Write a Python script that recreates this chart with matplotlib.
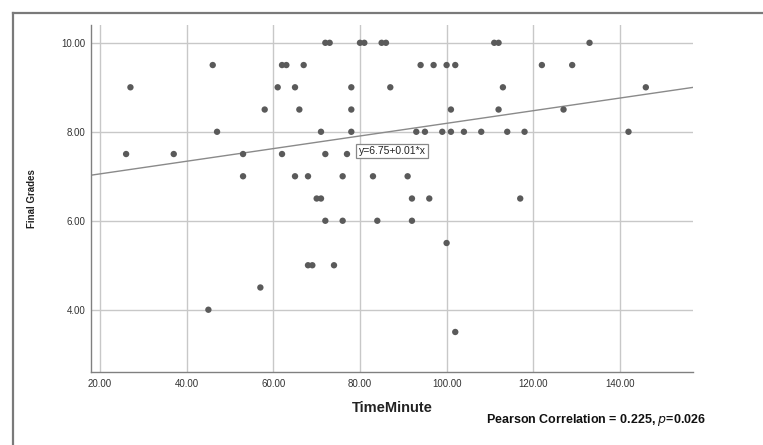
import matplotlib
matplotlib.use("Agg")
import matplotlib.pyplot as plt
from matplotlib.lines import Line2D
import numpy as np

plt.rcParams['font.family'] = ['Liberation Sans', 'DejaVu Sans']

# scatter values (TimeMinute, Final Grades)
time_minute = [26, 27, 37, 45, 46, 47, 53, 53, 57, 58, 61, 62, 62, 63, 65, 65, 66, 67,
               68, 68, 69, 70, 71, 71, 72, 72, 72, 73, 74, 76, 76, 77, 78, 78, 78,
               80, 81, 83, 84, 85, 86, 87, 91, 92, 92, 93, 94, 95, 96, 97, 99,
               100, 100, 101, 101, 102, 102, 104, 108, 111, 112, 112, 113, 114,
               117, 118, 122, 127, 129, 133, 142, 146]
final_grades = [7.5, 9.0, 7.5, 4.0, 9.5, 8.0, 7.5, 7.0, 4.5, 8.5, 9.0, 9.5, 7.5, 9.5, 9.0, 7.0, 8.5, 9.5,
                7.0, 5.0, 5.0, 6.5, 6.5, 8.0, 10.0, 7.5, 6.0, 10.0, 5.0, 7.0, 6.0, 7.5, 9.0, 8.5, 8.0,
                10.0, 10.0, 7.0, 6.0, 10.0, 10.0, 9.0, 7.0, 6.5, 6.0, 8.0, 9.5, 8.0, 6.5, 9.5, 8.0,
                9.5, 5.5, 8.0, 8.5, 9.5, 3.5, 8.0, 8.0, 10.0, 10.0, 8.5, 9.0, 8.0,
                6.5, 8.0, 9.5, 8.5, 9.5, 10.0, 8.0, 9.0]

# fit line as drawn
fit_intercept = 6.77
fit_slope = 0.0142
fit_label = 'y=6.75+0.01*x'
fit_label_pos = (87.4, 7.57)

x_ticks = [20, 40, 60, 80, 100, 120, 140]
y_ticks = [4, 6, 8, 10]

fig = plt.figure(figsize=(7.63, 4.45), dpi=100)
ax = fig.add_axes([0.1193, 0.164, 0.7890, 0.7798])

ax.set_xlim(17.9, 156.9)
ax.set_ylim(2.6, 10.4)

ax.grid(True, color='#c8c8c8', linewidth=1.0, zorder=0)
ax.set_axisbelow(True)

xs = np.array(ax.get_xlim())
ax.plot(xs, fit_intercept + fit_slope * xs, color='#8a8a8a', linewidth=1.0, zorder=2)

ax.scatter(time_minute, final_grades, s=21, color='#5a5a5a', edgecolors='none', zorder=3)

ax.text(fit_label_pos[0], fit_label_pos[1], fit_label, fontsize=7.5, color='#222222',
        ha='center', va='center', zorder=4,
        bbox=dict(boxstyle='square,pad=0.2', facecolor='white', edgecolor='#888888', linewidth=0.9))

ax.set_xticks(x_ticks)
ax.set_xticklabels(['%.2f' % v for v in x_ticks])
ax.set_yticks(y_ticks)
ax.set_yticklabels(['%.2f' % v for v in y_ticks])
ax.tick_params(axis='both', length=0, labelsize=7, labelcolor='#333333')
ax.tick_params(axis='x', pad=5)
ax.tick_params(axis='y', pad=4)

for side in ['top', 'right']:
    ax.spines[side].set_visible(False)
for side in ['left', 'bottom']:
    ax.spines[side].set_color('#808080')
    ax.spines[side].set_linewidth(1.0)

ax.set_xlabel('TimeMinute', fontsize=10.5, fontweight='bold', color='#222222', labelpad=9)
ax.set_ylabel('Final Grades', fontsize=7, fontweight='bold', color='#222222', labelpad=17.5)

fig.text(0.925, 0.056, r'Pearson Correlation = 0.225, $\mathbf{\it{p}}$=0.026', fontsize=9,
         fontweight='bold', ha='right', va='center', color='#111111')

# outer frame (left and top edges only)
fx = 13 / 763.0
fy = 1 - 13 / 445.0
fig.add_artist(Line2D([fx, fx], [0, fy], transform=fig.transFigure, color='#7a7a7a', linewidth=1.6))
fig.add_artist(Line2D([fx, 1], [fy, fy], transform=fig.transFigure, color='#7a7a7a', linewidth=1.6))

fig.savefig('out.png', dpi=100)
